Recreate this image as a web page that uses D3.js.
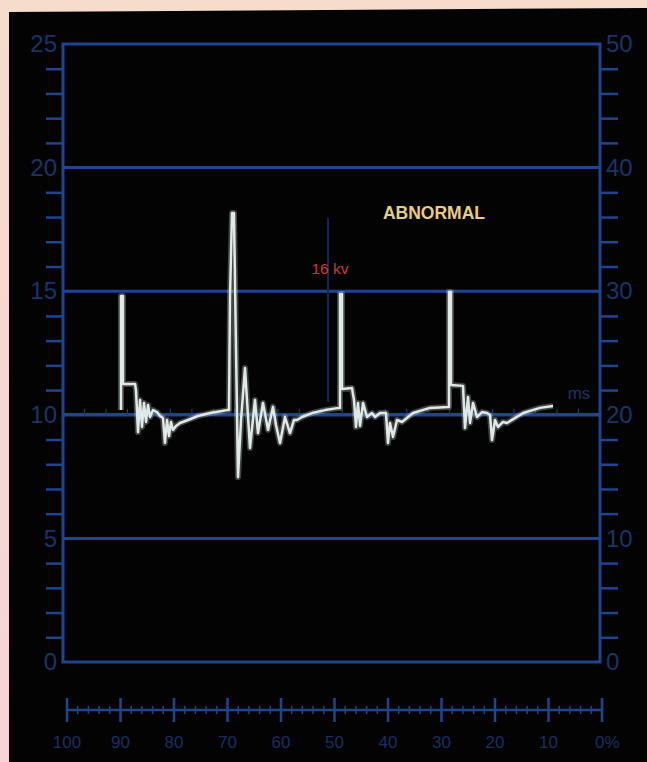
<!DOCTYPE html>
<html>
<head>
<meta charset="utf-8">
<script src="https://cdn.jsdelivr.net/npm/d3@7"></script>
<style>
  html, body { margin: 0; padding: 0; background: #f7d6d9; }
  svg { display: block; }
  text { font-family: "Liberation Sans", Arial, sans-serif; }
</style>
</head>
<body>
<svg id="chart" width="647" height="762"></svg>
<script>
// scale labels
var kvLabels = [0, 5, 10, 15, 20, 25];
var rightLabels = [0, 10, 20, 30, 40, 50];
var pctLabels = [100, 90, 80, 70, 60, 50, 40, 30, 20, 10, 0];

// trace, [time, kv] -- one array per firing
var pulse1 = [[10.80,10.19],[10.80,14.81],[11.17,14.81],[11.17,11.25],[13.41,11.25],[13.59,11.00],
  [13.97,9.30],[14.34,10.60],[14.71,9.51],[15.08,10.48],[15.46,9.71],[15.83,10.40],[16.20,9.91],
  [16.76,10.19],[17.50,10.11],[18.06,9.95],[18.62,9.87],[18.99,8.86],[19.37,9.79],[19.74,9.14],
  [20.11,9.71],[20.48,9.39],[21.04,9.55],[21.79,9.67],[23.28,9.79],[25.14,9.95],[27.37,10.07],
  [29.61,10.15],[30.54,10.19]];
var pulse2 = [[30.91,10.19],[31.10,14.77],[31.47,18.16],[31.84,18.16],[32.22,12.62],[32.59,7.48],
  [33.15,9.79],[33.89,11.89],[34.82,8.66],[35.75,10.60],[36.31,9.26],[37.24,10.48],[38.18,9.39],
  [39.11,10.32],[39.66,9.59],[40.41,8.86],[41.34,9.91],[42.27,9.26],[43.02,9.79],[43.58,9.79],
  [44.51,9.91],[46.37,10.07],[48.79,10.19],[51.40,10.28]];
var pulse3 = [[51.58,10.28],[51.58,14.89],[51.96,14.89],[51.96,11.04],[53.82,11.08],[54.19,10.60],
  [54.56,9.51],[54.93,10.48],[55.31,9.55],[55.87,10.48],[56.61,9.91],[57.54,10.07],[58.10,9.91],
  [59.03,10.07],[60.15,10.07],[60.52,8.86],[60.89,9.67],[61.45,9.10],[62.20,9.79],[63.13,9.71],
  [65.18,10.07],[68.34,10.28],[71.69,10.32]];
var pulse4 = [[71.88,10.32],[71.88,14.97],[72.25,14.97],[72.25,11.21],[74.49,11.17],[74.86,9.47],
  [75.42,10.72],[75.79,9.67],[76.35,10.48],[77.09,9.91],[78.03,10.11],[78.96,10.07],[79.52,9.99],
  [79.89,8.98],[80.45,9.79],[81.01,9.51],[81.94,9.71],[82.68,9.67],[85.66,10.07],[88.83,10.28],
  [91.25,10.36]];

// marker
var markerT = 49.35, markerFrom = 10.52, markerTo = 17.96;

var svg = d3.select("#chart");
var W = 647, H = 762;
var blue = "#1d4592", labelBlue = "#1a3468";

// backdrop: pink photo margin, black scope screen
var grad = svg.append("defs").append("linearGradient").attr("id", "edge")
  .attr("x1", 0).attr("y1", 0).attr("x2", 0).attr("y2", 1);
grad.append("stop").attr("offset", 0).attr("stop-color", "#f6dccb");
grad.append("stop").attr("offset", 1).attr("stop-color", "#f8d3d8");
svg.append("rect").attr("width", W).attr("height", H).attr("fill", "url(#edge)");
svg.append("path").attr("d", "M9,12 L647,8 L647,762 L9,762 Z").attr("fill", "#030303");

var t = d3.scaleLinear().domain([0, 100]).range([63, 600]);
var yL = d3.scaleLinear().domain([0, 25]).range([662, 44]);
var yR = d3.scaleLinear().domain([0, 50]).range([662, 44]);
var pct = d3.scaleLinear().domain([100, 0]).range([67, 602]);

// grid lines
svg.append("g").selectAll("line").data(kvLabels.slice(1, 5)).enter().append("line")
  .attr("x1", t(0)).attr("x2", t(100))
  .attr("y1", function(d){ return yL(d); }).attr("y2", function(d){ return yL(d); })
  .attr("stroke", blue).attr("stroke-width", function(d){ return d == 10 ? 3.5 : 3; });

// small ms ticks on the 10 kv line
svg.append("g").selectAll("line").data(d3.range(4, 100, 4)).enter().append("line")
  .attr("x1", function(d){ return t(d); }).attr("x2", function(d){ return t(d); })
  .attr("y1", yL(10)).attr("y2", yL(10) - 6)
  .attr("stroke", "#173a7c").attr("stroke-width", 1.2);

// left axis
var gl = svg.append("g").attr("transform", "translate(" + t(0) + ",0)")
  .call(d3.axisLeft(yL).tickValues(d3.range(0, 26)).tickSize(17)
    .tickFormat(function(d){ return d % 5 == 0 ? d : ""; }));
gl.select(".domain").remove();
gl.selectAll(".tick line").attr("stroke", blue).attr("stroke-width", 2.5)
  .attr("opacity", function(d){ return d % 5 == 0 ? 0 : 1; });
gl.selectAll(".tick text").attr("x", -6).attr("fill", labelBlue)
  .attr("font-size", 24).attr("font-family", "Liberation Sans, Arial, sans-serif");

// right axis
var gr = svg.append("g").attr("transform", "translate(" + t(100) + ",0)")
  .call(d3.axisRight(yR).tickValues(d3.range(0, 51, 2)).tickSize(18)
    .tickFormat(function(d){ return d % 10 == 0 ? d : ""; }));
gr.select(".domain").remove();
gr.selectAll(".tick line").attr("stroke", blue).attr("stroke-width", 2.5)
  .attr("opacity", function(d){ return d % 10 == 0 ? 0 : 1; });
gr.selectAll(".tick text").attr("x", 6).attr("fill", labelBlue)
  .attr("font-size", 24).attr("font-family", "Liberation Sans, Arial, sans-serif");

// frame
svg.append("rect").attr("x", t(0)).attr("y", yL(25))
  .attr("width", t(100) - t(0)).attr("height", yL(0) - yL(25))
  .attr("fill", "none").attr("stroke", blue).attr("stroke-width", 3);

// percent scale
var gp = svg.append("g").attr("transform", "translate(0,710)");
gp.append("line").attr("x1", pct(100)).attr("x2", pct(0)).attr("stroke", blue).attr("stroke-width", 2.5);
gp.selectAll("line.minor").data(d3.range(0, 101, 2)).enter().append("line")
  .attr("class", "minor")
  .attr("x1", function(d){ return pct(d); }).attr("x2", function(d){ return pct(d); })
  .attr("y1", function(d){ return d % 10 == 0 ? -12 : -4; })
  .attr("y2", function(d){ return d % 10 == 0 ? 12 : 4; })
  .attr("stroke", blue).attr("stroke-width", function(d){ return d % 10 == 0 ? 2.5 : 1.5; });
gp.selectAll("text").data(pctLabels).enter().append("text")
  .attr("x", function(d){ return d == 0 ? pct(d) - 7 : pct(d); })
  .attr("y", 38)
  .attr("text-anchor", function(d){ return d == 0 ? "start" : "middle"; })
  .attr("fill", "#182f64").attr("font-size", 17)
  .text(function(d){ return d == 0 ? "0%" : d; });

// marker line and labels
svg.append("line").attr("x1", t(markerT)).attr("x2", t(markerT))
  .attr("y1", yL(markerFrom)).attr("y2", yL(markerTo))
  .attr("stroke", "#12285a").attr("stroke-width", 2);
svg.append("text").attr("x", t(markerT) + 2).attr("y", 274).attr("text-anchor", "middle")
  .attr("fill", "#cf3a2c").attr("font-size", 15.5).text("16 kv");
svg.append("text").attr("x", 434).attr("y", 219).attr("text-anchor", "middle")
  .attr("fill", "#e6cf7a").attr("font-size", 17.5).attr("font-weight", "bold").text("ABNORMAL");
svg.append("text").attr("x", 579).attr("y", 399).attr("text-anchor", "middle")
  .attr("fill", labelBlue).attr("font-size", 17).text("ms");

// waveform
var line = d3.line().x(function(d){ return t(d[0]); }).y(function(d){ return yL(d[1]); });
var trace = pulse1.concat(pulse2, pulse3, pulse4);
svg.append("path").attr("d", line(trace)).attr("fill", "none")
  .attr("stroke", "#cfdcda").attr("stroke-width", 6).attr("opacity", 0.3)
  .attr("stroke-linejoin", "round");
svg.append("path").attr("d", line(trace)).attr("fill", "none")
  .attr("stroke", "#dfe9e6").attr("stroke-width", 2.5).attr("stroke-linejoin", "round");
</script>
</body>
</html>
